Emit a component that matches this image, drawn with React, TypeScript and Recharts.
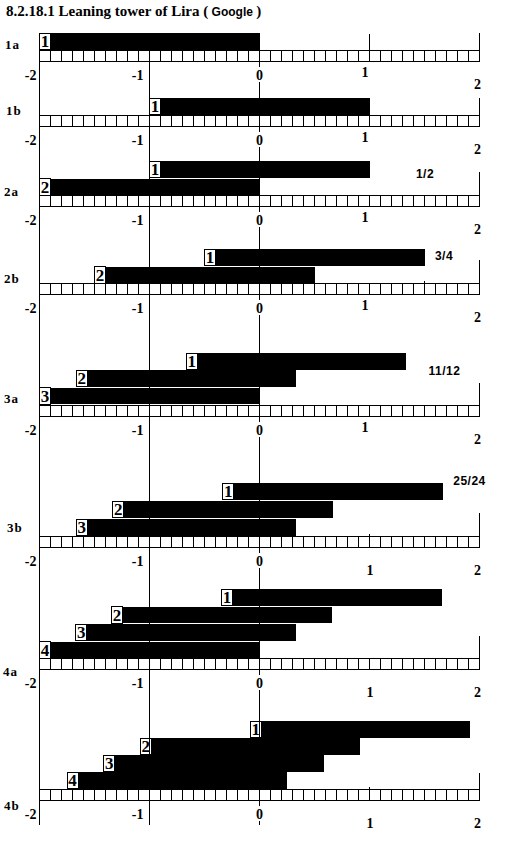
import React from 'react'
import { BarChart, Bar, XAxis, YAxis, ReferenceLine } from 'recharts'

const SERIF = '"Liberation Serif", "Times New Roman", serif'
const SANS = '"Liberation Sans", Arial, sans-serif'

// panel names and the [start, end] of every block, top block first
const PANEL_IDS = ['1a', '1b', '2a', '2b', '3a', '3b', '4a', '4b']
const BARS_1A = [[-2, 0]]
const BARS_1B = [[-1, 1]]
const BARS_2A = [[-1, 1], [-2, 0]]
const BARS_2B = [[-0.5, 1.5], [-1.5, 0.5]]
const BARS_3A = [[-0.667, 1.333], [-1.667, 0.333], [-2, 0]]
const BARS_3B = [[-0.333, 1.667], [-1.333, 0.667], [-1.667, 0.333]]
const BARS_4A = [[-0.345, 1.66], [-1.345, 0.66], [-1.67, 0.33], [-2, 0]]
const BARS_4B = [[-0.083, 1.917], [-1.083, 0.917], [-1.417, 0.583], [-1.75, 0.25]]
const PANEL_BARS = [BARS_1A, BARS_1B, BARS_2A, BARS_2B, BARS_3A, BARS_3B, BARS_4A, BARS_4B]
const FRACTIONS = ['', '', '1/2', '3/4', '11/12', '25/24', '', '']
const AXIS_LABELS = ['-2', '-1', '0', '1', '2']
// ruler cells every tenth
const RULER_TICKS = Array.from({ length: 41 }, (_, i) => Math.round((-2 + i * 0.1) * 10) / 10)

const CELL = 11
const LAYOUT = [
  { rulerTop: 50, plotH: 17, idX: 5, idDy: -1, right: 17, fx: 0, fdy: 0, lowOne: false, marks: { 1: 16 } },
  { rulerTop: 115, plotH: 17, idX: 6, idDy: 0, right: 17, fx: 0, fdy: 0, lowOne: false, marks: {} },
  { rulerTop: 195, plotH: 35, idX: 4, idDy: 1, right: 23, fx: 425, fdy: -17, lowOne: false, marks: {} },
  { rulerTop: 283, plotH: 35, idX: 4, idDy: 0, right: 23, fx: 444, fdy: -23, lowOne: false, marks: { 1.5: 2 } },
  { rulerTop: 405, plotH: 52, idX: 4, idDy: -2, right: 22, fx: 444.5, fdy: -30, lowOne: false, marks: {} },
  { rulerTop: 536, plotH: 54, idX: 7, idDy: -4, right: 23, fx: 469.5, fdy: -51, lowOne: true, marks: { 1: 2 } },
  { rulerTop: 658, plotH: 70, idX: 3, idDy: 18, right: 22, fx: 0, fdy: 0, lowOne: true, marks: {} },
  { rulerTop: 789, plotH: 68, idX: 4, idDy: 21, right: 16, fx: 0, fdy: 0, lowOne: true, marks: { 1: 2 } },
]

const chartTop = (i: number) => LAYOUT[i].rulerTop - LAYOUT[i].plotH
const labelsH = (i: number) =>
  i < LAYOUT.length - 1 ? chartTop(i + 1) - (LAYOUT[i].rulerTop + CELL) : 25

function Block(props: any) {
  const { x, y, width, height, payload } = props
  return (
    <g>
      <rect x={x} y={y} width={width} height={height} fill="#000" />
      <rect x={x} y={y} width={CELL} height={height} fill="#fff" stroke="#000" />
      <text x={x + CELL / 2} y={y + height - 2.5} textAnchor="middle" fontFamily={SERIF} fontWeight="bold" fontSize={17} fill="#000">
        {payload.n}
      </text>
    </g>
  )
}

const TXT = { fontFamily: SERIF, fontWeight: 'bold', fontSize: 14, fill: '#000' } as any

// the axis label under the ruler, with the long verticals at -2, -1 and 0
function AxisLabel({ v, x, y, h, low }: any) {
  const label = AXIS_LABELS[v + 2]
  if (v === -2 || v === -1) {
    return (
      <g>
        <line x1={x} x2={x} y1={y} y2={y + h} stroke="#000" />
        <text x={v === -2 ? x - 3 : x - 6} y={y + 18.5} textAnchor="end" {...TXT}>{label}</text>
      </g>
    )
  }
  if (v === 0) {
    return (
      <g>
        <line x1={x} x2={x} y1={y} y2={y + h} stroke="#000" />
        <rect x={x - 5} y={y + 6} width={10} height={15} fill="#fff" />
        <text x={x} y={y + 18.5} textAnchor="middle" {...TXT}>{label}</text>
      </g>
    )
  }
  if (v === 1) {
    return (
      <text x={low ? x + 0.5 : x - 4.5} y={low ? y + 28 : y + 16} textAnchor="middle" {...TXT}>{label}</text>
    )
  }
  return <text x={x - 2} y={y + 28} textAnchor="middle" {...TXT}>{label}</text>
}

function RulerTick(props: any) {
  const { x, y, payload, panel } = props
  const v = payload.value
  const L = LAYOUT[panel]
  const mark = (L.marks as any)[v]
  return (
    <g>
      {v < 2 && <rect x={x} y={y} width={CELL} height={CELL} fill="#fff" stroke="#000" />}
      {mark && <line x1={x} x2={x} y1={y - mark} y2={y} stroke="#000" />}
      {v === 2 && <line x1={x} x2={x} y1={y - L.right} y2={y + CELL} stroke="#000" />}
      {Number.isInteger(v) && (
        <AxisLabel v={v} x={x} y={y + CELL} h={labelsH(panel)} low={L.lowOne} />
      )}
      {v === -2 && (
        <text x={L.idX} y={y + L.idDy} fontFamily={SERIF} fontWeight="bold" fontSize={13} letterSpacing={1} fill="#000">
          {PANEL_IDS[panel]}
        </text>
      )}
      {v === 2 && FRACTIONS[panel] && (
        <text x={L.fx} y={y + L.fdy} textAnchor="middle" fontFamily={SANS} fontWeight="bold" fontSize={12} letterSpacing={0.5} fill="#000">
          {FRACTIONS[panel]}
        </text>
      )}
    </g>
  )
}

function Panel({ index }: { index: number }) {
  const L = LAYOUT[index]
  const data = PANEL_BARS[index].map(([s, e], k) => ({ n: k + 1, range: [s, e] }))
  const axisH = CELL + labelsH(index)
  return (
    <div style={{ position: 'absolute', left: 0, top: chartTop(index) }}>
      <BarChart
        width={510}
        height={L.plotH + axisH}
        data={data}
        layout="vertical"
        margin={{ top: 0, right: 30.5, bottom: 0, left: 39.5 }}
      >
        <XAxis
          xAxisId="ruler"
          type="number"
          domain={[-2, 2]}
          ticks={RULER_TICKS}
          interval={0}
          height={axisH}
          tickSize={0}
          tickMargin={0}
          axisLine={false}
          tickLine={false}
          tick={(p: any) => <RulerTick {...p} panel={index} />}
        />
        <YAxis type="category" dataKey="n" hide />
        <ReferenceLine xAxisId="ruler" x={-2} stroke="#000" />
        <ReferenceLine xAxisId="ruler" x={-1} stroke="#000" />
        <ReferenceLine xAxisId="ruler" x={0} stroke="#000" />
        <Bar
          xAxisId="ruler"
          dataKey="range"
          barSize={16.5}
          isAnimationActive={false}
          shape={(p: any) => <Block {...p} />}
        />
      </BarChart>
    </div>
  )
}

export default function App() {
  return (
    <div
      style={{
        position: 'absolute',
        left: 0,
        top: 0,
        width: 510,
        height: 851,
        background: '#fff',
        shapeRendering: 'crispEdges',
        overflow: 'hidden',
      }}
    >
      <style>{'svg { overflow: visible; }'}</style>
      <div
        style={{
          position: 'absolute',
          left: 6,
          top: 4,
          fontFamily: SERIF,
          fontWeight: 'bold',
          fontSize: 15,
          lineHeight: '15px',
          whiteSpace: 'nowrap',
        }}
      >
        8.2.18.1 Leaning tower of Lira <span>(</span>
        <span style={{ fontFamily: SANS, fontSize: 12 }}> Google </span>
        <span>)</span>
      </div>
      {PANEL_IDS.map((_, i) => (
        <Panel key={i} index={i} />
      ))}
    </div>
  )
}
